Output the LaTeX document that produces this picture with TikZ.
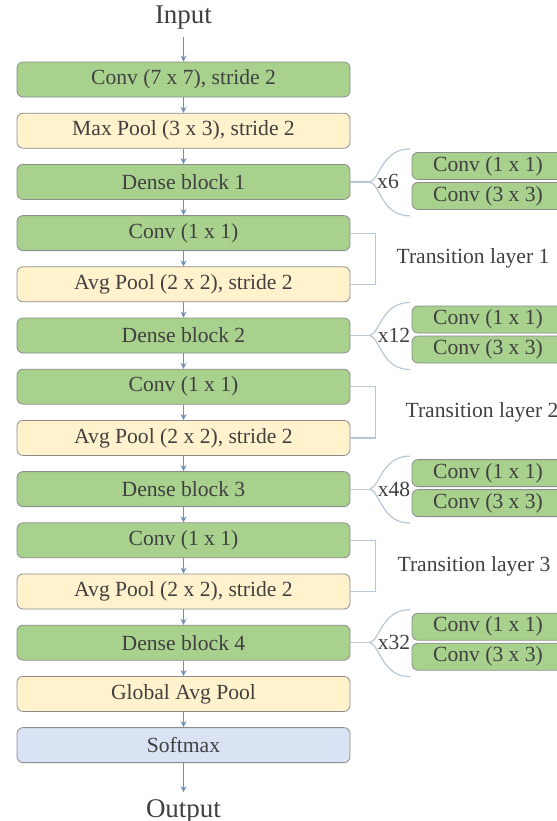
\documentclass[tikz,border=0pt]{standalone}
\usepackage{fontspec}
\setmainfont{Liberation Serif}
\usetikzlibrary{arrows.meta}

\definecolor{convgreen}{HTML}{A9D18E}
\definecolor{poolyellow}{HTML}{FFF2CC}
\definecolor{softblue}{HTML}{DAE3F3}
\definecolor{flowblue}{HTML}{6F8FB8}
\definecolor{linkgray}{HTML}{B8C6D6}

\begin{document}
\begin{tikzpicture}[x=0.5pt,y=-0.5pt,
>={Stealth[length=3pt,width=3pt]},text=black!75,
layer/.style={draw=black!45,rounded corners=3pt,minimum width=166.5pt,
  minimum height=17.5pt,inner sep=0pt,font=\fontsize{10.8}{13}\selectfont},
convbox/.style={layer,fill=convgreen},
poolbox/.style={layer,fill=poolyellow},
softbox/.style={layer,fill=softblue},
unitbox/.style={convbox,minimum width=76pt,minimum height=13.5pt},
flow/.style={->,flowblue,line width=0.6pt},
link/.style={linkgray,line width=0.6pt},
tag/.style={font=\fontsize{10.8}{13}\selectfont}]

  \clip (0,0) rectangle (557,821);

  % main column
  \node (input)   at (183.5,18)    [font=\fontsize{13.5}{15}\selectfont] {Input};
  \node (conv0)   at (183.5,79.5)  [convbox] {Conv (7 x 7), stride 2};
  \node (pool0)   at (183.5,130.7) [poolbox] {Max Pool (3 x 3), stride 2};
  \node (dense1)  at (183.5,181.9) [convbox] {Dense block 1};
  \node (tconv1)  at (183.5,233.1) [convbox] {Conv (1 x 1)};
  \node (tpool1)  at (183.5,284.3) [poolbox] {Avg Pool (2 x 2), stride 2};
  \node (dense2)  at (183.5,335.5) [convbox] {Dense block 2};
  \node (tconv2)  at (183.5,386.7) [convbox] {Conv (1 x 1)};
  \node (tpool2)  at (183.5,437.9) [poolbox] {Avg Pool (2 x 2), stride 2};
  \node (dense3)  at (183.5,489.1) [convbox] {Dense block 3};
  \node (tconv3)  at (183.5,540.3) [convbox] {Conv (1 x 1)};
  \node (tpool3)  at (183.5,591.5) [poolbox] {Avg Pool (2 x 2), stride 2};
  \node (dense4)  at (183.5,642.7) [convbox] {Dense block 4};
  \node (gpool)   at (183.5,693.9) [poolbox] {Global Avg Pool};
  \node (softmax) at (183.5,745.1) [softbox] {Softmax};
  \node (output)  at (183.5,811)   [font=\fontsize{13.5}{15}\selectfont] {Output};

  \draw[flow] (input)   -- (conv0);
  \draw[flow] (conv0)   -- (pool0);
  \draw[flow] (pool0)   -- (dense1);
  \draw[flow] (dense1)  -- (tconv1);
  \draw[flow] (tconv1)  -- (tpool1);
  \draw[flow] (tpool1)  -- (dense2);
  \draw[flow] (dense2)  -- (tconv2);
  \draw[flow] (tconv2)  -- (tpool2);
  \draw[flow] (tpool2)  -- (dense3);
  \draw[flow] (dense3)  -- (tconv3);
  \draw[flow] (tconv3)  -- (tpool3);
  \draw[flow] (tpool3)  -- (dense4);
  \draw[flow] (dense4)  -- (gpool);
  \draw[flow] (gpool)   -- (softmax);
  \draw[flow] (softmax) -- (output);

  % dense block units
  \node (d1a) at (488,165.9) [unitbox] {Conv (1 x 1)};
  \node (d1b) at (488,195.9) [unitbox] {Conv (3 x 3)};
  \node (d2a) at (488,319.5) [unitbox] {Conv (1 x 1)};
  \node (d2b) at (488,349.5) [unitbox] {Conv (3 x 3)};
  \node (d3a) at (488,473.1) [unitbox] {Conv (1 x 1)};
  \node (d3b) at (488,503.1) [unitbox] {Conv (3 x 3)};
  \node (d4a) at (488,626.7) [unitbox] {Conv (1 x 1)};
  \node (d4b) at (488,656.7) [unitbox] {Conv (3 x 3)};

  % braces
  \coordinate (br1) at (370,181.9);
  \coordinate (br2) at (370,335.5);
  \coordinate (br3) at (370,489.1);
  \coordinate (br4) at (370,642.7);

  \draw[link] (dense1.east) -- (br1);
  \draw[link] (br1) .. controls +(10,-3) and +(-28,0) .. +(40,-33);
  \draw[link] (br1) .. controls +(10,3) and +(-28,0) .. +(40,34);
  \draw[link] (dense2.east) -- (br2);
  \draw[link] (br2) .. controls +(10,-3) and +(-28,0) .. +(40,-33);
  \draw[link] (br2) .. controls +(10,3) and +(-28,0) .. +(40,34);
  \draw[link] (dense3.east) -- (br3);
  \draw[link] (br3) .. controls +(10,-3) and +(-28,0) .. +(40,-33);
  \draw[link] (br3) .. controls +(10,3) and +(-28,0) .. +(40,34);
  \draw[link] (dense4.east) -- (br4);
  \draw[link] (br4) .. controls +(10,-3) and +(-28,0) .. +(40,-33);
  \draw[link] (br4) .. controls +(10,3) and +(-28,0) .. +(40,34);

  \node (rep1) at (388,181.9) [tag] {x6};
  \node (rep2) at (394,335.5) [tag] {x12};
  \node (rep3) at (394,489.1) [tag] {x48};
  \node (rep4) at (394,642.7) [tag] {x32};

  % transition layers
  \draw[link] (tconv1.east) -- ++(25,0) |- (tpool1.east);
  \draw[link] (tconv2.east) -- ++(25,0) |- (tpool2.east);
  \draw[link] (tconv3.east) -- ++(25,0) |- (tpool3.east);

  \node (trans1) at (473,258.7) [tag] {Transition layer 1};
  \node (trans2) at (482,412.3) [tag] {Transition layer 2};
  \node (trans3) at (474,565.9) [tag] {Transition layer 3};
\end{tikzpicture}
\end{document}
